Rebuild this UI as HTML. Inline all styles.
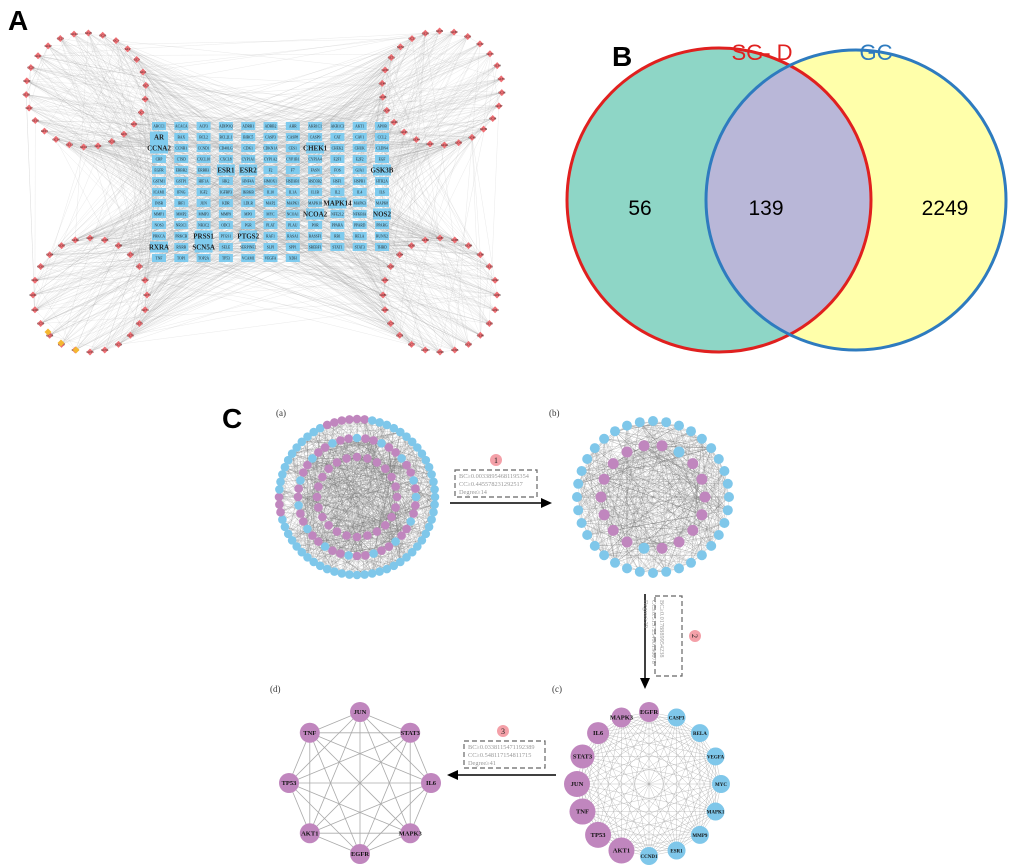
<!DOCTYPE html>
<html><head><meta charset="utf-8"><style>
html,body{margin:0;padding:0;background:#fff;width:1020px;height:868px;overflow:hidden}
svg{display:block}
.pl{font-family:"Liberation Sans",sans-serif;font-weight:bold}
.sf{font-family:"Liberation Serif",serif}
</style></head><body>
<svg id="s" width="1020" height="868" xmlns="http://www.w3.org/2000/svg">
<g id="gA"></g>
<text x="8" y="30" class="pl" font-size="28">A</text>
<text x="612" y="66" class="pl" font-size="28">B</text>
<defs>
<clipPath id="cl"><circle cx="719" cy="200" r="152"/></clipPath>
</defs>
<circle cx="719" cy="200" r="152" fill="#8ED6C6"/>
<circle cx="856" cy="200" r="150" fill="#FFFFAA"/>
<circle cx="856" cy="200" r="150" fill="#B9B7D8" clip-path="url(#cl)"/>
<circle cx="719" cy="200" r="152" fill="none" stroke="#E0201F" stroke-width="3"/>
<circle cx="856" cy="200" r="150" fill="none" stroke="#2E7BBF" stroke-width="3"/>
<text x="762" y="60" font-family="Liberation Sans,sans-serif" font-size="22" fill="#E0201F" text-anchor="middle">SG- D</text>
<text x="876" y="60" font-family="Liberation Sans,sans-serif" font-size="22" fill="#2E7BBF" text-anchor="middle">GC</text>
<text x="640" y="215" font-family="Liberation Sans,sans-serif" font-size="21" text-anchor="middle">56</text>
<text x="766" y="215" font-family="Liberation Sans,sans-serif" font-size="21" text-anchor="middle">139</text>
<text x="945" y="215" font-family="Liberation Sans,sans-serif" font-size="21" text-anchor="middle">2249</text>
<text x="222" y="428" class="pl" font-size="28">C</text>
<g class="sf" font-size="9" fill="#333">
<text x="276" y="416">(a)</text>
<text x="549" y="416">(b)</text>
<text x="270" y="692">(d)</text>
<text x="552" y="692">(c)</text>
</g>
<g id="gC"></g>
<line x1="450" y1="503" x2="543" y2="503" stroke="#000" stroke-width="1.5"/>
<polygon points="552,503 541,498 541,508" fill="#000"/>
<line x1="645" y1="594" x2="645" y2="680" stroke="#000" stroke-width="1.5"/>
<polygon points="645,689 640,678 650,678" fill="#000"/>
<line x1="556" y1="775" x2="456" y2="775" stroke="#000" stroke-width="1.5"/>
<polygon points="447,775 458,770 458,780" fill="#000"/>
<g fill="none" stroke="#666" stroke-width="1.2" stroke-dasharray="5,3">
<rect x="455" y="470" width="82" height="27"/>
<rect x="655" y="596" width="27" height="80"/>
<rect x="464" y="741" width="81" height="27"/>
</g>
<g fill="#F4A0A8"><circle cx="496" cy="460" r="6"/><circle cx="695" cy="636" r="6"/><circle cx="503" cy="731" r="6"/></g>
<g class="sf" font-size="8" fill="#222" text-anchor="middle">
<text x="496" y="463">1</text><text x="695" y="639" transform="rotate(90 695 636)">2</text><text x="503" y="734">3</text>
</g>
<g class="sf" font-size="6.3" fill="#999">
<text x="459" y="478">BC≥0.00338954681195354</text>
<text x="459" y="486">CC≥0.445578231292517</text>
<text x="459" y="494">Degree≥14</text>
<text x="468" y="749">BC≥0.0338115471192389</text>
<text x="468" y="757">CC≥0.548117154811715</text>
<text x="468" y="765">Degree≥41</text>
<g transform="rotate(90 660 600)">
<text x="660" y="600">BC≥0.0178889954238</text>
<text x="660" y="608">CC≥0.513725490196078</text>
<text x="660" y="616">Degree≥29</text>
</g>
</g>
</svg>
<script>
var NS="http://www.w3.org/2000/svg";
var seed=7;function rnd(){seed=(seed*16807)%2147483647;return (seed-1)/2147483646;}
function el(p,t,a,tx){var e=document.createElementNS(NS,t);for(var k in a)e.setAttribute(k,a[k]);if(tx)e.textContent=tx;p.appendChild(e);return e;}
var gA=document.getElementById('gA'),gC=document.getElementById('gC');
var rows=["ABCC1 ACACA ACP3 ADIPOQ ADRB1 ADRB2 AHR AKR1C1 AKR1C3 AKT1 APOB","AR BAX BCL2 BCL2L1 BIRC5 CASP3 CASP8 CASP9 CAT CAV1 CCL2","CCNA2 CCNB1 CCND1 CD40LG CDK1 CDKN1A CES1 CHEK1 CHEK2 CHUK CLDN4","CRP CTSD CXCL10 CXCL8 CYP1A1 CYP1A2 CYP1B1 CYP3A4 E2F1 E2F2 EGF","EGFR ERBB2 ERBB3 ESR1 ESR2 F2 F7 FASN FOS GJA1 GSK3B","GSTM1 GSTP1 HIF1A HK2 HNF4A HMOX1 HSD3B1 HSD3B2 HSF1 HSPB1 HTR2A","ICAM1 IFNG IGF2 IGFBP3 IKBKB IL10 IL1A IL1B IL2 IL4 IL6","INSR IRF1 JUN KDR LDLR MAP2 MAPK1 MAPK10 MAPK14 MAPK3 MAPK8","MMP1 MMP2 MMP3 MMP9 MPO MYC NCOA1 NCOA2 NFE2L2 NFKBIA NOS2","NOS3 NR3C1 NR3C2 ODC1 PGR PLAT PLAU POR PPARA PPARD PPARG","PRKCA PRKCB PRSS1 PTGS1 PTGS2 RAF1 RASA1 RASSF1 RB1 RELA RUNX2","RXRA RXRB SCN5A SELE SERPINE1 SLPI SPP1 SREBF1 STAT1 STAT3 THBD","TNF TOP1 TOP2A TP53 VCAM1 VEGFA XDH"];
var big={AR:1,CCNA2:1,CHEK1:1,ESR1:1,ESR2:1,GSK3B:1,MAPK14:1,NCOA2:1,NOS2:1,PRSS1:1,PTGS2:1,RXRA:1,SCN5A:1};
var grid=[];rows.forEach(function(r,i){r.split(" ").forEach(function(n,j){grid.push({x:159+j*22.3,y:126+i*11,n:n});});});
var reds=[];
function arc(cx,cy,rx,ry,a0,a1,n){for(var i=0;i<n;i++){var a=(a0+(a1-a0)*i/n)*Math.PI/180;reds.push({x:cx+rx*Math.cos(a),y:cy+ry*Math.sin(a)});}}
arc(86,90,60,57,-60,300,26);arc(442,88,60,57,-120,240,26);arc(90,295,57,57,60,420,24);arc(440,295,57,57,120,480,24);
var lg=el(gA,'g',{stroke:'#999','stroke-width':'0.3','stroke-opacity':'0.35'});
reds.forEach(function(r){for(var k=0;k<12;k++){var g=grid[Math.floor(rnd()*grid.length)];el(lg,'line',{x1:r.x.toFixed(1),y1:r.y.toFixed(1),x2:g.x.toFixed(1),y2:g.y.toFixed(1)});}});
for(var k=0;k<200;k++){var a=reds[Math.floor(rnd()*reds.length)],b=reds[Math.floor(rnd()*reds.length)];el(lg,'line',{x1:a.x.toFixed(1),y1:a.y.toFixed(1),x2:b.x.toFixed(1),y2:b.y.toFixed(1)});}
grid.forEach(function(g){var b=big[g.n];var w=b?18:14,h=b?11:8;el(gA,'rect',{x:g.x-w/2,y:g.y-h/2,width:w,height:h,fill:'#7FCBEE'});el(gA,'text',{x:g.x,y:g.y+(b?2.5:1.3),'font-size':b?7:3.6,'font-family':'Liberation Serif,serif','text-anchor':'middle','font-weight':b?'bold':'normal',fill:'#222'},g.n);});
reds.forEach(function(r,i){el(gA,'polygon',{points:[r.x,r.y-3.5,r.x+3.5,r.y,r.x,r.y+3.5,r.x-3.5,r.y].join(','),fill:'#EE6F74'});el(gA,'text',{x:r.x,y:r.y+1,'font-size':3,'font-family':'Liberation Serif,serif','text-anchor':'middle',fill:'#222'},'GC'+(i+1));});
[[48,332],[61,343],[76,350]].forEach(function(p){el(gA,'polygon',{points:[p[0],p[1]-3.5,p[0]+3.5,p[1],p[0],p[1]+3.5,p[0]-3.5,p[1]].join(','),fill:'#F5B731'});});
function ring(cx,cy,r,n,off){var a=[];for(var i=0;i<n;i++){var t=(off+i*360/n)*Math.PI/180;a.push({x:cx+r*Math.cos(t),y:cy+r*Math.sin(t)});}return a;}
function net(cx,cy,rings,nl){var all=[];rings.forEach(function(R){ring(cx,cy,R.r,R.n,R.o||0).forEach(function(p,i){p.c=R.f(i);p.s=R.s;all.push(p);});});
 var g=el(gC,'g',{stroke:'#777','stroke-width':'0.3','stroke-opacity':'0.5'});
 for(var k=0;k<nl;k++){var a=all[Math.floor(rnd()*all.length)],b=all[Math.floor(rnd()*all.length)];el(g,'line',{x1:a.x.toFixed(1),y1:a.y.toFixed(1),x2:b.x.toFixed(1),y2:b.y.toFixed(1)});}
 all.forEach(function(p){el(gC,'circle',{cx:p.x.toFixed(1),cy:p.y.toFixed(1),r:p.s,fill:p.c});});}
var B='#7FC7EA',P='#C086BE';
net(357,497,[{r:78,n:64,s:4.3,f:function(i){return (i>=44&&i<50)||(i>=30&&i<33)?P:B;}},{r:59,n:44,s:4.3,f:function(i){return i%3==0?B:P;}},{r:40,n:24,s:4.3,f:function(){return P;}}],900);
net(653,497,[{r:76,n:36,s:5,f:function(){return B;}},{r:52,n:18,s:5.5,f:function(i){return i==5||i==15?B:P;}}],600);
var cn=["EGFR","CASP3","RELA","VEGFA","MYC","MAPK1","MMP9","ESR1","CCND1","AKT1","TP53","TNF","JUN","STAT3","IL6","MAPK3"];
var cp={EGFR:10,AKT1:13,TP53:13,TNF:13,JUN:13,STAT3:12,IL6:11,MAPK3:10};
var cs=ring(649,784,72,16,-90);
var lg2=el(gC,'g',{stroke:'#999','stroke-width':'0.4','stroke-opacity':'0.7'});
for(var i=0;i<16;i++)for(var j=i+1;j<16;j++)el(lg2,'line',{x1:cs[i].x,y1:cs[i].y,x2:cs[j].x,y2:cs[j].y});
cs.forEach(function(p,i){var n=cn[i];var pr=cp[n];el(gC,'circle',{cx:p.x,cy:p.y,r:pr||9,fill:pr?P:B});el(gC,'text',{x:p.x,y:p.y+2,'font-size':pr?6.5:5,'font-weight':'bold','font-family':'Liberation Serif,serif','text-anchor':'middle',fill:'#111'},n);});
var dn=["JUN","STAT3","IL6","MAPK3","EGFR","AKT1","TP53","TNF"];
var ds=ring(360,783,71,8,-90);
var lg3=el(gC,'g',{stroke:'#aaa','stroke-width':'0.8'});
for(var i=0;i<8;i++)for(var j=i+1;j<8;j++)el(lg3,'line',{x1:ds[i].x,y1:ds[i].y,x2:ds[j].x,y2:ds[j].y});
ds.forEach(function(p,i){el(gC,'circle',{cx:p.x,cy:p.y,r:10,fill:P});el(gC,'text',{x:p.x,y:p.y+2.2,'font-size':6.5,'font-weight':'bold','font-family':'Liberation Serif,serif','text-anchor':'middle',fill:'#111'},dn[i]);});
</script>
</body></html>
